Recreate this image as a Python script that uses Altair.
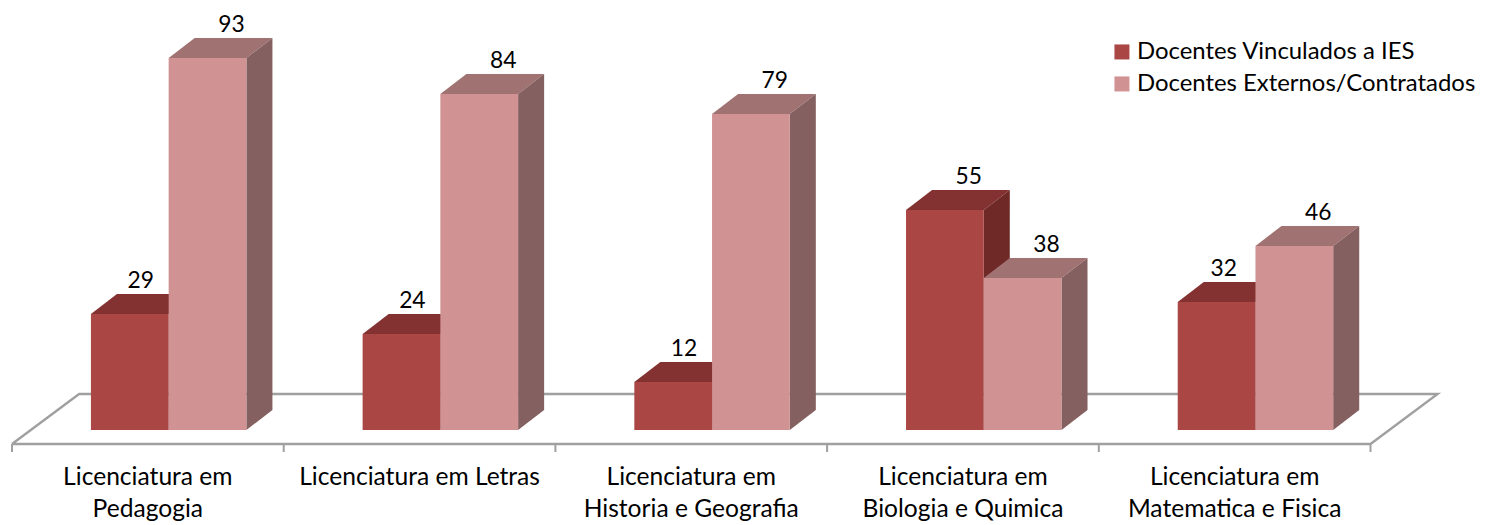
import altair as alt
import pandas as pd

categories = ["Licenciatura em\nPedagogia", "Licenciatura em Letras", "Licenciatura em\nHistoria e Geografia",
              "Licenciatura em\nBiologia e Quimica", "Licenciatura em\nMatematica e Fisica"]
series = ["Docentes Vinculados a IES", "Docentes Externos/Contratados"]
vinculados = [29, 24, 12, 55, 32]
externos = [93, 84, 79, 38, 46]

# layout constants (category units on x, value units on y)
W, H = 1472, 516
PX_X = 271.7
PX_Y = 4.0
GROUP_START = 0.2905
BAR_W = 0.2861
DEPTH_X = 0.0958
DEPTH_Y = 5.0
FLOOR_FRONT = -3.5
FLOOR_BACK = 9.0
FLOOR_SHIFT = 0.247
TICK_LEN = 2.0
LABEL_Y = -13.75
LABEL_GAP = 1.5
FONT = "Lato"
FS_CAT = 24.6
FS_LEG = 23.9
FS_VAL = 22.8

FRONT = ["#AA4643", "#D09292"]
TOP = ["#843231", "#A07271"]
SIDE = ["#6F2A28", "#856060"]
AXIS = "#A0A0A0"
# per-bar horizontal shift of the value labels, in category units
SHIFTS = [[0.040, 0.040, 0.040, 0.088, 0.026], [0.088, 0.088, 0.088, 0.088, 0.088]]

x_scale = alt.Scale(domain=[-4 / PX_X, (W - 4) / PX_X], nice=False, zero=False)
y_scale = alt.Scale(domain=[(422 - H) / PX_Y, 422 / PX_Y], nice=False, zero=False)
X = alt.X("x:Q", scale=x_scale, axis=None)
Y = alt.Y("y:Q", scale=y_scale, axis=None, stack=None)

rows_front, rows_top, rows_side, rows_val = [], [], [], []
for s, vals in enumerate([vinculados, externos]):
    for i, v in enumerate(vals):
        x0 = i + GROUP_START + s * BAR_W
        x1 = x0 + BAR_W
        rows_front.append(dict(x=x0, x2=x1, y=0, y2=v, serie=series[s]))
        for x, a, b in [(x0, v, v), (x0 + DEPTH_X, v, v + DEPTH_Y), (x1, v, v + DEPTH_Y),
                        (x1 + DEPTH_X, v + DEPTH_Y, v + DEPTH_Y)]:
            rows_top.append(dict(x=x, y=a, y2=b, s=s, id=i))
        for x, a, b in [(x1, 0, v), (x1 + DEPTH_X, DEPTH_Y, v + DEPTH_Y)]:
            rows_side.append(dict(x=x, y=a, y2=b, s=s, id=i))
        rows_val.append(dict(x=(x0 + x1) / 2 + SHIFTS[s][i], y=v + DEPTH_Y + LABEL_GAP, t=str(v)))

top = pd.DataFrame(rows_top)
side = pd.DataFrame(rows_side)


def faces(df, s, color):
    return alt.Chart(df[df.s == s]).mark_area(color=color, orient="vertical", opacity=1).encode(
        x=X, y=Y, y2="y2:Q", detail="id:N")


floor = pd.DataFrame([
    dict(x=0, y=FLOOR_FRONT, k="a", o=0), dict(x=5, y=FLOOR_FRONT, k="a", o=1),
    dict(x=5 + FLOOR_SHIFT, y=FLOOR_BACK, k="a", o=2), dict(x=FLOOR_SHIFT, y=FLOOR_BACK, k="a", o=3),
    dict(x=0, y=FLOOR_FRONT, k="a", o=4),
])
floor_layer = alt.Chart(floor).mark_line(color=AXIS, strokeWidth=2.4).encode(
    x=X, y=Y, order="o:Q", detail="k:N")

ticks = pd.DataFrame({"x": list(range(6)), "y": [FLOOR_FRONT] * 6, "y2": [FLOOR_FRONT - TICK_LEN] * 6})
tick_layer = alt.Chart(ticks).mark_rule(color=AXIS, strokeWidth=2).encode(x=X, y=Y, y2="y2:Q")

front_layer = alt.Chart(pd.DataFrame(rows_front)).mark_rect().encode(
    x=X, x2="x2:Q", y=Y, y2="y2:Q",
    color=alt.Color("serie:N", scale=alt.Scale(domain=series, range=FRONT),
                    legend=alt.Legend(title=None, orient="none", legendX=1102, legendY=32,
                                      symbolType="square", symbolSize=225, symbolStrokeWidth=0,
                                      labelFont=FONT, labelFontSize=FS_LEG, labelColor="#000000",
                                      labelOffset=3, rowPadding=7, labelLimit=400, padding=0)),
)

val_layer = alt.Chart(pd.DataFrame(rows_val)).mark_text(font=FONT, fontSize=FS_VAL, color="#000000",
                                                         baseline="alphabetic").encode(x=X, y=Y, text="t:N")

cat_df = pd.DataFrame({"x": [i + 0.5 for i in range(5)], "y": [LABEL_Y] * 5, "t": categories})
cat_layer = alt.Chart(cat_df).mark_text(font=FONT, fontSize=FS_CAT, color="#000000", baseline="alphabetic",
                                        lineBreak="\n", lineHeight=32).encode(x=X, y=Y, text="t:N")

chart = alt.layer(
    floor_layer, tick_layer,
    faces(top, 0, TOP[0]), faces(side, 0, SIDE[0]),
    faces(top, 1, TOP[1]), faces(side, 1, SIDE[1]),
    front_layer, val_layer, cat_layer,
).properties(width=W, height=H, padding=0, autosize=alt.AutoSizeParams(type="none"),
             background="#ffffff").configure_view(stroke=None)

chart.save("out.html", embed_options={"renderer": "svg", "actions": False})
